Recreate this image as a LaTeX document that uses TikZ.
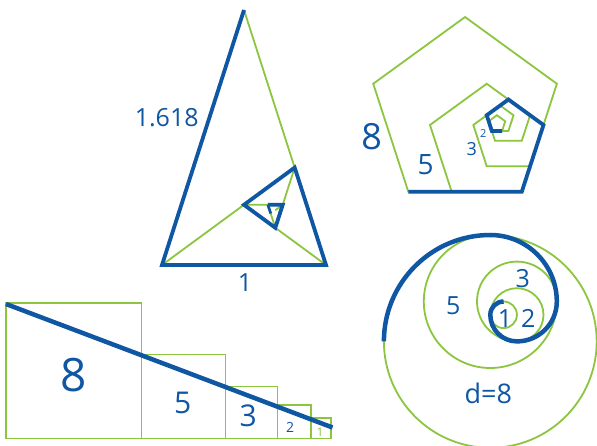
\documentclass[tikz,border=0pt]{standalone}
\usepackage{fontspec}
\setmainfont{Open Sans}
\usepackage{xcolor}
\usepackage{tikz}
\usetikzlibrary{calc}

\definecolor{goldblue}{HTML}{0F56A3}
\definecolor{goldgreen}{HTML}{8CC63F}

\begin{document}
\begin{tikzpicture}[
  x=1pt, y=-1pt,
  blueline/.style={draw=goldblue, line width=3.8pt},
  greenline/.style={draw=goldgreen, line width=1.8pt},
  num/.style={text=goldblue, inner sep=0pt, font=\fontsize{#1}{#1}\selectfont},
  num/.default=25
]
\useasboundingbox[fill=white] (0,0) rectangle (597,446);

% golden triangle
\coordinate (t0) at (244,10);
\coordinate (t1) at (162,265);
\coordinate (t2) at (326,265);
\foreach \k in {3,...,10}{
  \pgfmathtruncatemacro\a{\k-3}
  \pgfmathtruncatemacro\b{\k-1}
  \coordinate (t\k) at ($(t\b)!0.382!(t\a)$);
}
\foreach \k in {3,...,9}{\pgfmathtruncatemacro\a{\k-3}\draw[greenline] (t\a) -- (t\k);}
\draw[blueline] (t0) \foreach \k in {1,...,7}{-- (t\k)};
\draw[blueline, line width=2.8pt] (t7) -- (t8);
\node[num] (tri-side) at (166.7,118) {1.618};
\node[num] (tri-base) at (245,283) {1};

% pentagons
\coordinate (p0) at (408.3,191.7);
\foreach \k in {0,...,8}{
  \pgfmathsetmacro\len{113.5/1.618^\k}
  \pgfmathtruncatemacro\n{\k+1}
  \coordinate (p\n) at ($(p\k)+(-72*\k:\len)$);
}
\foreach \k in {0,...,5}{
  \pgfmathsetmacro\len{113.5/1.618^\k}
  \draw[greenline] (p\k) -- ++(-72*\k:\len) -- ++(-72*\k-72:\len)
    -- ++(-72*\k-144:\len) -- ++(-72*\k-216:\len) -- cycle;
}
\draw[blueline] (p0) \foreach \k in {1,...,6}{-- (p\k)};
\node[num=36] (pent8) at (371.7,136.5) {8};
\node[num=28] (pent5) at (425.7,164.3) {5};
\node[num=18] (pent3) at (471.7,149) {3};
\node[num=11] (pent2) at (483.3,133.5) {2};

% circles
\foreach \cx/\cy/\r in {490.3/341.4/106.4, 490.3/301.5/66.5, 516.9/301.5/39.9, 516.9/314.8/26.6, 503.6/314.8/13.3}
  \draw[greenline] (\cx,\cy) circle (\r);
\coordinate (c0) at (383.9,341.4);
\draw[blueline, line width=4.5pt] (c0) arc (180:270:106.4) arc (270:360:66.5)
  arc (360:450:39.9) arc (450:540:26.6) arc (540:630:13.3);
\node[num] (circ5) at (453.3,306) {5};
\node[num] (circ3) at (522.7,278.3) {3};
\node[num] (circ1) at (505,318.3) {1};
\node[num] (circ2) at (528.3,318.3) {2};
\node[num=27] (circ8) at (488.3,393.3) {d=8};

% squares
\foreach \x/\s in {6/135.5, 141.5/84, 225.5/52, 277.5/33.2, 310.7/20.3}
  \draw[greenline] (\x,438.5) rectangle ++(\s,-\s);
\coordinate (s0) at (6,304);
\coordinate (s1) at (332.5,427.5);
\draw[blueline, line width=4.5pt] (s0) -- (s1);
\node[num=46] (sq8) at (73.3,375) {8};
\node[num=30] (sq5) at (182.7,403.3) {5};
\node[num=30] (sq3) at (248.3,416) {3};
\node[num=14] (sq2) at (290,427.3) {2};
\node[num=12, text=goldgreen] (sq1) at (320,432.7) {1};
\end{tikzpicture}
\end{document}
